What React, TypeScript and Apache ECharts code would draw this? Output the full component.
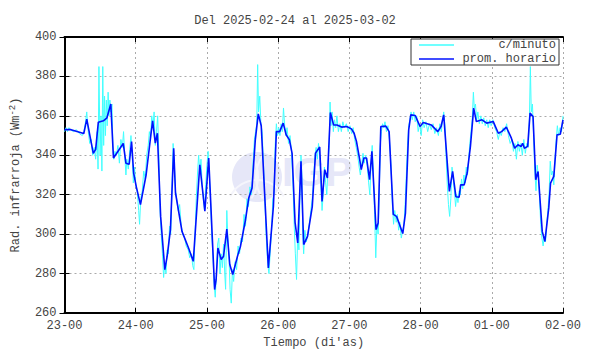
import React, { useEffect, useRef } from "react";
import * as echarts from "echarts";

// X axis: hours since 23-00; tick every 24 h
const dayLabels = ["23-00", "24-00", "25-00", "26-00", "27-00", "28-00", "01-00", "02-00"];

// Hourly mean ("prom. horario")
const hourlyHours = [
  0, 2.2, 6.5, 7.5, 9.7, 10.5, 11.4, 13.1, 14.3, 15.6, 16.5, 19.8, 20.7, 21.8, 22.6, 23.3,
  24.2, 25.6, 27.5, 29.1, 29.7, 30.6, 31.3, 32.4, 33.8, 34.6, 35.7, 36.8, 37.4, 39.6, 41.8, 43.4,
  45.6, 47.3, 48.6, 50.6, 51.1, 51.7, 52.8, 53.6, 54.7, 55.7, 56.7, 58.3, 59.3, 61.0, 62.1, 63.2,
  64.3, 65.3, 66.3, 68.7, 70.4, 71.4, 72.5, 73.7, 74.7, 75.8, 76.7, 77.7, 78.6, 79.7, 80.6, 81.9,
  83.5, 84.6, 86.0, 86.8, 87.7, 88.6, 89.6, 90.7, 91.8, 93.4, 95.1, 96.7, 97.6, 98.4, 99.5, 100.0,
  100.9, 101.8, 102.8, 103.6, 105.0, 105.7, 106.6, 108.3, 109.4, 110.8, 111.9, 112.7, 114.0, 114.9,
  116.0, 116.7, 118.2, 118.7, 119.8, 120.9, 123.6, 125.8, 126.9, 127.8, 129.7, 130.8, 131.9, 133.0,
  133.5, 134.7, 135.7, 136.8, 137.9, 138.8, 140.7, 142.3, 144.5, 146.2, 147.3, 148.9, 150.6, 151.7,
  152.8, 153.9, 154.4, 155.0, 156.1, 156.9, 157.9, 158.8, 159.6, 161.0, 161.9, 163.2, 163.8, 164.9,
  166.0, 167.1, 168,
];
const hourlyValues = [
  353, 353, 351, 358.3, 341, 343, 356.8, 357.5, 359, 366, 338.6, 346, 336, 335.5, 347, 331,
  324, 315, 330, 350.4, 357.5, 346.2, 351.2, 309, 282, 288.8, 302.3, 343.6, 321, 301.4, 293, 286.2,
  335.2, 311.7, 338.6, 271.9, 277, 293, 287.1, 288.8, 302.6, 284.6, 279.5, 288.8, 293.8, 307.3, 318.3, 323.4,
  347.8, 361, 355, 282.9, 314, 352, 352, 356.3, 350.4, 347.8, 341, 306, 295.5, 337, 294.7, 298.9,
  314, 341.1, 344.2, 316.6, 332.7, 328.5, 361.7, 355.4, 355.4, 354.3, 354.6, 353.4, 351.2, 347, 337.7, 332.7,
  338.6, 338.6, 327.6, 342, 302.3, 305.7, 354.6, 354.8, 352, 310, 309, 305.8, 300.3, 310.7,
  352.9, 360.5, 360.2, 358.5, 354.6, 356.6, 355.4, 352, 354.6, 360.5, 321.7, 331.8, 319, 318.7,
  325, 325, 331, 344.5, 363.9, 357.1, 358, 356.3, 357.1, 351.2, 352, 354.3, 348.7, 343.6,
  345.3, 344.5, 346.1, 343.6, 344.5, 361.4, 359.7, 327.6, 331.8, 301.4, 296.3, 313.3, 325.9, 329.3,
  350.4, 350.7, 358,
];

// Per-minute readings ("c/minuto") as [hour, value]
const minuteSamples: [number, number][] = [
  [0, 352], [0.5, 354], [1, 352], [1.5, 354], [2, 353], [3, 352], [4, 353], [5, 351], [6, 350], [6.5, 352],
  [7, 356], [7.5, 362], [8, 352], [8.5, 346], [9, 348], [9.5, 340], [10, 344], [10.5, 338], [11, 352], [11.3, 333],
  [11.6, 385], [12, 340], [12.3, 360], [12.6, 332], [12.9, 385], [13.2, 345], [13.5, 370], [13.8, 350], [14.1, 368], [14.4, 355],
  [14.7, 372], [15, 360], [15.3, 368], [15.6, 362], [16, 366], [16.3, 345], [16.6, 338], [17, 342], [17.5, 340], [18, 345],
  [18.5, 336], [19, 348], [19.5, 344], [19.9, 352], [20.3, 340], [20.7, 330], [21, 338], [21.5, 333], [22, 343], [22.4, 350],
  [22.8, 340], [23.2, 326], [23.6, 334], [24, 325], [24.5, 322], [25, 312], [25.3, 305], [25.7, 318], [26.2, 322], [26.7, 332],
  [27.2, 328], [27.7, 340], [28.2, 345], [28.6, 352], [29, 348], [29.4, 360], [29.8, 355], [30.2, 362], [30.6, 345], [31, 352],
  [31.4, 360], [31.8, 340], [32.2, 312], [32.6, 300], [33, 290], [33.4, 278], [33.8, 285], [34.2, 280], [34.6, 292], [35, 290],
  [35.4, 304], [35.8, 300], [36.2, 322], [36.6, 346], [37, 336], [37.4, 322], [37.8, 318], [38.3, 312], [38.8, 315], [39.3, 305],
  [39.8, 300], [40.5, 298], [41, 294], [41.7, 292], [42.2, 288], [42.8, 290], [43.2, 284], [43.6, 282], [44, 300], [44.4, 318],
  [44.8, 330], [45.2, 340], [45.6, 332], [46, 338], [46.4, 325], [46.8, 318], [47.2, 312], [47.6, 325], [48, 335], [48.4, 342],
  [48.8, 330], [49.2, 318], [49.6, 300], [50, 290], [50.4, 275], [50.8, 268], [51.2, 280], [51.6, 295], [52, 298], [52.4, 280],
  [52.8, 290], [53.2, 283], [53.6, 295], [54, 280], [54.3, 272], [54.7, 312], [55, 300], [55.4, 290], [55.8, 272], [56.2, 265],
  [56.6, 282], [57, 276], [57.5, 286], [58, 282], [58.5, 294], [59, 290], [59.5, 298], [60, 296], [60.5, 310], [61, 304],
  [61.5, 318], [62, 314], [62.5, 324], [63, 320], [63.5, 335], [64, 348], [64.4, 352], [64.8, 356], [65.1, 386], [65.4, 362],
  [65.8, 370], [66.2, 356], [66.6, 352], [67, 338], [67.5, 318], [68, 298], [68.5, 285], [68.9, 280], [69.3, 290], [69.8, 302],
  [70.2, 318], [70.6, 320], [71, 345], [71.4, 356], [71.8, 350], [72.2, 354], [72.6, 350], [73, 356], [73.4, 352], [73.8, 364],
  [74.2, 355], [74.6, 350], [75, 354], [75.5, 346], [76, 350], [76.5, 342], [77, 325], [77.4, 305], [77.8, 290], [78.2, 277],
  [78.6, 300], [79, 292], [79.4, 325], [79.7, 340], [80, 330], [80.3, 300], [80.6, 290], [81, 302], [81.5, 296], [82, 300],
  [82.5, 305], [83, 312], [83.5, 318], [84, 330], [84.4, 340], [84.8, 344], [85.2, 338], [85.6, 346], [86, 340], [86.4, 325],
  [86.8, 312], [87.2, 320], [87.6, 334], [88, 326], [88.4, 320], [88.8, 335], [89.2, 345], [89.5, 367], [89.8, 355], [90.2, 362],
  [90.6, 352], [91, 358], [91.4, 354], [91.8, 360], [92.3, 352], [92.8, 356], [93.3, 352], [93.8, 357], [94.3, 354], [95, 356],
  [95.6, 352], [96.2, 355], [96.8, 351], [97.3, 354], [97.8, 348], [98.3, 344], [98.8, 340], [99.3, 334], [99.7, 330], [100.2, 336],
  [100.6, 341], [101, 336], [101.5, 340], [102, 335], [102.5, 326], [102.9, 320], [103.3, 335], [103.7, 345], [104.1, 330], [104.5, 310],
  [104.9, 288], [105.3, 305], [105.7, 300], [106.1, 322], [106.4, 345], [106.8, 352], [107.2, 356], [107.6, 354], [108, 357], [108.5, 352],
  [109, 355], [109.5, 348], [110, 336], [110.5, 315], [110.9, 305], [111.3, 312], [111.8, 306], [112.2, 310], [112.6, 302], [113, 306],
  [113.5, 298], [114, 302], [114.4, 305], [114.8, 315], [115.2, 330], [115.6, 345], [116, 355], [116.4, 358], [116.8, 362], [117.2, 358],
  [117.7, 362], [118.2, 357], [118.7, 360], [119.2, 352], [119.7, 356], [120.2, 350], [120.7, 358], [121.2, 354], [121.8, 357], [122.4, 352],
  [123, 356], [123.6, 353], [124.2, 356], [124.8, 351], [125.4, 354], [126, 350], [126.5, 356], [127, 352], [127.4, 358], [127.8, 362],
  [128.2, 355], [128.6, 340], [129, 325], [129.4, 315], [129.8, 309], [130.2, 318], [130.6, 334], [131, 328], [131.4, 322], [131.8, 314],
  [132.2, 320], [132.6, 316], [133, 322], [133.4, 320], [133.8, 328], [134.2, 323], [134.6, 330], [135, 326], [135.4, 334], [135.8, 330],
  [136.2, 338], [136.6, 346], [137, 352], [137.4, 358], [137.8, 372], [138.1, 364], [138.5, 366], [138.9, 358], [139.3, 362], [139.8, 356],
  [140.3, 360], [140.8, 356], [141.3, 359], [141.8, 355], [142.3, 358], [142.8, 354], [143.3, 358], [143.8, 355], [144.4, 358], [145, 354],
  [145.6, 352], [146.2, 348], [146.7, 352], [147.2, 350], [147.8, 354], [148.4, 352], [149, 356], [149.6, 350], [150.2, 346], [150.8, 348],
  [151.3, 342], [151.8, 346], [152.3, 338], [152.8, 347], [153.3, 342], [153.8, 346], [154.3, 340], [154.8, 348], [155.3, 341], [155.8, 346],
  [156.3, 344], [156.7, 360], [157, 385], [157.3, 362], [157.7, 366], [158.1, 350], [158.5, 332], [158.9, 322], [159.3, 335], [159.7, 330],
  [160.1, 318], [160.5, 305], [160.9, 298], [161.3, 294], [161.7, 299], [162.1, 296], [162.5, 305], [162.9, 312], [163.3, 320], [163.7, 337],
  [164.1, 330], [164.5, 332], [164.9, 325], [165.3, 338], [165.7, 348], [166.1, 355], [166.5, 350], [167, 354], [167.5, 352], [168, 360],
];

const TITLE = "Del 2025-02-24 al 2025-03-02";
const MONO = "'Liberation Mono', 'DejaVu Sans Mono', monospace";

export default function App() {
  const ref = useRef<HTMLDivElement>(null);

  useEffect(() => {
    if (!ref.current) return;
    const chart = echarts.init(ref.current, undefined, { renderer: "svg" });
    const hourly = hourlyHours.map((h, i) => [h, hourlyValues[i]]);
    const txt = { fontFamily: MONO, fontSize: 12, color: "#444" };
    const boxLine = { show: true, lineStyle: { color: "#000", width: 2 } };
    const tickIn = { show: true, inside: true, length: 5, lineStyle: { color: "#000", width: 1 } };
    const grid = { left: 54, right: 27, top: 37, bottom: 41 };

    chart.setOption({
      animation: false,
      backgroundColor: "#fff",
      title: {
        text: TITLE,
        left: "center",
        top: 10,
        textStyle: { ...txt, fontWeight: "normal" },
      },
      legend: {
        right: 31,
        top: 39,
        orient: "vertical",
        backgroundColor: "#fff",
        borderColor: "#333",
        borderWidth: 1,
        padding: [0, 3, 0, 8],
        itemGap: 2,
        itemWidth: 35,
        itemHeight: 1.5,
        icon: "rect",
        data: ["c/minuto", "prom. horario"],
        formatter: (n: string) => `{t|${n}}`,
        textStyle: {
          ...txt,
          lineHeight: 12,
          rich: { t: { ...txt, width: 97, height: 12, align: "right", lineHeight: 12 } },
        },
        z: 10,
      },
      graphic: [
        {
          type: "group",
          z: -10,
          silent: true,
          children: [
            { type: "circle", shape: { cx: 257, cy: 177, r: 25 }, style: { fill: "#e6e7f8" } },
            { type: "arc", shape: { cx: 257, cy: 210, r: 30, startAngle: Math.PI * 1.15, endAngle: Math.PI * 1.85 }, style: { stroke: "#f5f5fc", lineWidth: 2, fill: "none" } },
            { type: "arc", shape: { cx: 220, cy: 177, r: 38, startAngle: -0.6, endAngle: 0.6 }, style: { stroke: "#f5f5fc", lineWidth: 2, fill: "none" } },
            { type: "arc", shape: { cx: 294, cy: 177, r: 38, startAngle: Math.PI - 0.6, endAngle: Math.PI + 0.6 }, style: { stroke: "#f5f5fc", lineWidth: 2, fill: "none" } },
            {
              type: "text",
              x: 282,
              y: 192,
              style: {
                text: "IGP",
                fontFamily: "'Liberation Sans', Arial, sans-serif",
                fontWeight: "bold",
                fontSize: 41,
                fill: "#e6e7f8",
                textVerticalAlign: "bottom",
              },
            },
          ],
        },
      ],
      grid,
      xAxis: [
        {
          type: "value",
          min: 0,
          max: 168,
          interval: 24,
          name: "Tiempo (di'as)",
          nameLocation: "middle",
          nameGap: 24,
          nameTextStyle: txt,
          axisLine: boxLine,
          axisTick: tickIn,
          axisLabel: {
            ...txt,
            margin: 7,
            formatter: (v: number) => dayLabels[Math.round(v / 24)] ?? "",
          },
          splitLine: { show: true, lineStyle: { color: "#aaa", type: [2, 3], width: 1 } },
        },
        {
          type: "value",
          position: "top",
          min: 0,
          max: 168,
          interval: 24,
          axisLine: boxLine,
          axisTick: tickIn,
          axisLabel: { show: false },
          splitLine: { show: false },
        },
      ],
      yAxis: [
        {
          type: "value",
          min: 260,
          max: 400,
          interval: 20,
          name: "Rad. infrarroja (Wm{sup|-2})",
          nameLocation: "middle",
          nameGap: 35,
          nameTextStyle: {
            ...txt,
            lineHeight: 16,
            rich: { sup: { ...txt, fontSize: 9, verticalAlign: "top", lineHeight: 16 } },
          },
          axisLine: boxLine,
          axisTick: tickIn,
          axisLabel: { ...txt, margin: 8 },
          splitLine: { show: true, lineStyle: { color: "#aaa", type: [2, 3], width: 1 } },
        },
        {
          type: "value",
          position: "right",
          min: 260,
          max: 400,
          interval: 20,
          axisLine: boxLine,
          axisTick: tickIn,
          axisLabel: { show: false },
          splitLine: { show: false },
        },
      ],
      series: [
        {
          name: "c/minuto",
          type: "line",
          data: minuteSamples,
          symbol: "none",
          lineStyle: { color: "#40ffff", width: 1 },
          itemStyle: { color: "#40ffff" },
          z: 2,
        },
        {
          name: "prom. horario",
          type: "line",
          data: hourly,
          symbol: "none",
          lineStyle: { color: "#0010ff", width: 1.6 },
          itemStyle: { color: "#0010ff" },
          z: 3,
        },
      ],
    });
    return () => chart.dispose();
  }, []);

  return (
    <div
      ref={ref}
      style={{ position: "fixed", left: 0, top: 0, width: 590, height: 354, background: "#fff" }}
    />
  );
}
